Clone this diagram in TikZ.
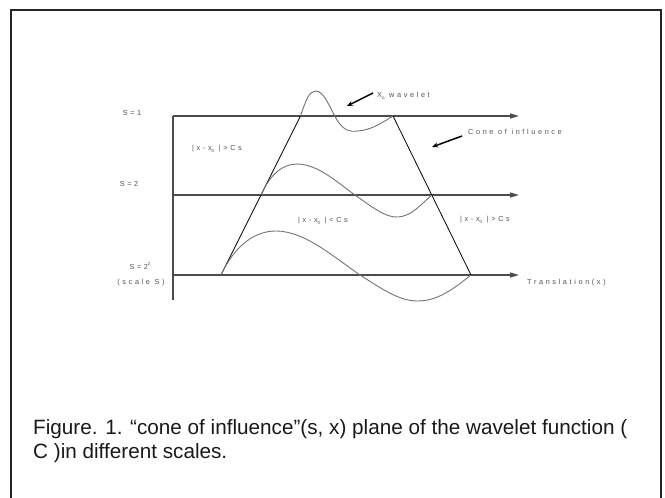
\documentclass[tikz,border=0pt]{standalone}
\usepackage{fontspec}
\setmainfont{Liberation Sans}
\newfontfamily\lblfont[LetterSpace=36]{Liberation Sans}
\usetikzlibrary{arrows.meta}
\newcommand\lowidx[1]{\raisebox{-0.35ex}{\fontsize{4.5}{5}\selectfont #1}}
\newcommand\highidx[1]{\raisebox{0.8ex}{\fontsize{4.5}{5}\selectfont #1}}
\tikzset{
  axisline/.style={draw=black!70, line width=1.4pt},
  axisarrow/.style={axisline, -{Triangle[length=9pt,width=5pt]}},
  coneline/.style={draw=black, line width=0.8pt},
  wave/.style={draw=black!55, line width=0.9pt},
  lbl/.style={font=\lblfont\fontsize{7.3}{8}\selectfont, text=black!68, inner sep=0pt},
  pointer/.style={draw=black, line width=1.5pt, -{Stealth[length=6pt,width=5pt]}},
  caption/.style={font=\fontsize{20.7}{24}\selectfont, anchor=north west, align=left, inner sep=0pt, text=black!90}
}
\begin{document}
\begin{tikzpicture}[x=1pt,y=-1pt]
\useasboundingbox (0,0) rectangle (665,498);
% frame
\draw[line width=1.5pt, draw=black!85] (11,520) -- (11,10) -- (661,10) -- (661,520);
% axis coordinates
\coordinate (vtop) at (173,116);
\coordinate (vbot) at (173,300);
\coordinate (a1s) at (173,116); \coordinate (a1e) at (519,116);
\coordinate (a2s) at (173,195); \coordinate (a2e) at (519,195);
\coordinate (a3s) at (173,275); \coordinate (a3e) at (519,275);
\draw[axisline] (vtop) -- (vbot);
\draw[axisarrow] (a1s) -- (a1e);
\draw[axisarrow] (a2s) -- (a2e);
\draw[axisarrow] (a3s) -- (a3e);
% cone
\coordinate (cbl) at (221,275);
\coordinate (ctl) at (300.5,116);
\coordinate (ctr) at (393,116);
\coordinate (cbr) at (471,275);
\coordinate (c2l) at (261,195);
\coordinate (c2r) at (432,195);
\draw[coneline] (cbl) -- (ctl);
\draw[coneline] (ctr) -- (cbr);
% wavelets
\draw[wave] (ctl) .. controls (306,100) and (309,91) .. (316,91)
  .. controls (324,91) and (330,108) .. (337,120)
  .. controls (344,131) and (350,132) .. (358,131)
  .. controls (372,130) and (383,122) .. (ctr);
\draw[wave] (c2l) .. controls (270,175) and (282,164) .. (297,164)
  .. controls (318,164) and (338,183) .. (355,195)
  .. controls (372,207) and (386,218) .. (398,217)
  .. controls (412,216) and (420,205) .. (c2r);
\draw[wave] (cbl) .. controls (235,245) and (255,231) .. (276,231)
  .. controls (305,231) and (335,258) .. (360,275)
  .. controls (385,291) and (400,301) .. (418,301)
  .. controls (440,301) and (458,285) .. (cbr);
% labels
\node[lbl] (s1) at (132,113) {S=1};
\node[lbl] (s2) at (129,184) {S=2};
\node[lbl] (s3) at (140,266) {S=2\highidx{2}};
\node[lbl] (sc) at (141,283) {(scale S)};
\node[lbl] (out1) at (217,149) {|x-x\lowidx{0} |>Cs};
\node[lbl] (in1) at (323,221) {|x-x\lowidx{0} |<Cs};
\node[lbl] (out2) at (485,220) {|x-x\lowidx{0} |>Cs};
\node[lbl, anchor=west] (wl) at (377,96) {X\lowidx{o} wavelet};
\node[lbl, anchor=west] (coi) at (468,132) {Cone of influence};
\node[lbl, anchor=west] (tr) at (527,283) {Translation(x)};
\coordinate (wlstart) at (373,93);
\coordinate (wltip) at (347,106);
\coordinate (coistart) at (462,136);
\coordinate (coitip) at (432,147);
\draw[pointer] (wlstart) -- (wltip);
\draw[pointer] (coistart) -- (coitip);
% caption
\node[caption] (cap) at (33,419) {Figure. 1. “cone of influence”(s, x) plane of the wavelet function (\\C )in different scales.};
\end{tikzpicture}
\end{document}
